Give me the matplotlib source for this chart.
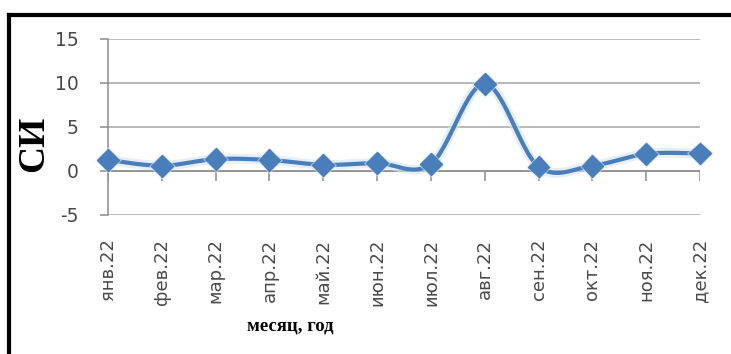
import numpy as np
import matplotlib.pyplot as plt
import matplotlib.patheffects as pe
from matplotlib.lines import Line2D

plt.rcParams['axes.unicode_minus'] = False

# monthly index values
months = ['янв.22', 'фев.22', 'мар.22', 'апр.22', 'май.22', 'июн.22',
          'июл.22', 'авг.22', 'сен.22', 'окт.22', 'ноя.22', 'дек.22']
si = [1.25, 0.6, 1.35, 1.25, 0.7, 0.9, 0.8, 9.9, 0.5, 0.6, 1.95, 2.0]

#smooth curve through the points (cardinal spline, bezier segments)
def smooth(x, y, n=30):
    x = np.asarray(x, float)
    y = np.asarray(y, float)
    px = np.concatenate([[x[0]], x, [x[-1]]])
    py = np.concatenate([[y[0]], y, [y[-1]]])
    xs, ys = [], []
    t = np.linspace(0, 1, n)
    for i in range(1, len(px) - 2):
        p0 = np.array([px[i], py[i]])
        p3 = np.array([px[i+1], py[i+1]])
        p1 = p0 + (np.array([px[i+1], py[i+1]]) - np.array([px[i-1], py[i-1]])) / 6
        p2 = p3 - (np.array([px[i+2], py[i+2]]) - np.array([px[i], py[i]])) / 6
        b = ((1-t)**3)[:, None]*p0 + (3*(1-t)**2*t)[:, None]*p1 + \
            (3*(1-t)*t**2)[:, None]*p2 + (t**3)[:, None]*p3
        xs.extend(b[:, 0])
        ys.extend(b[:, 1])
    return xs, ys

fig = plt.figure(figsize=(7.31, 3.54), dpi=100)
ax = fig.add_axes([108/731, 1-215/354, (700-108)/731, (215-39)/354])

x = np.arange(len(months))
ax.set_xlim(0, len(months)-1)
ax.set_ylim(-5, 15)
ax.set_yticks([-5, 0, 5, 10, 15])

ax.grid(axis='y', color='#a6a6a6', lw=1.1)
ax.set_axisbelow(True)
for s in ['top', 'right', 'bottom']:
    ax.spines[s].set_visible(False)
ax.spines['left'].set_color('#8c8c8c')
ax.spines['left'].set_linewidth(1.1)

#x axis crosses at zero, tick marks hang below it
ax.axhline(0, color='#8c8c8c', lw=1.1, zorder=1)
ax.vlines(x, -1.1, 0, color='#8c8c8c', lw=1.1, zorder=1)

ax.tick_params(axis='y', length=6, width=1.1, color='#8c8c8c', pad=15,
               labelsize=13.5, labelcolor='#4a4a4a')
ax.set_xticks(x)
ax.set_xticklabels(months, rotation=90, fontsize=13, color='#4a4a4a')
ax.tick_params(axis='x', length=0, pad=17)
for lbl in ax.get_yticklabels() + ax.get_xticklabels():
    lbl.set_family('DejaVu Sans')

sx, sy = smooth(x, si)
glow = [pe.Stroke(linewidth=7, foreground='#d6e4f3', alpha=0.6), pe.Normal()]
ax.plot(sx, sy, color='#4a7ebb', lw=3, zorder=3, path_effects=glow)
ax.plot(x, si, ls='none', marker='D', ms=11, color='#4a7ebb', zorder=4,
        clip_on=False,
        path_effects=[pe.Stroke(linewidth=2.5, foreground='#d6e4f3', alpha=0.6), pe.Normal()])

fig.text(34/731, 1-144/354, 'СИ', family='Liberation Serif', fontweight='bold',
         fontsize=27, rotation=90, ha='center', va='center')
fig.text(290/731, 1-326/354, 'месяц, год', family='Liberation Serif',
         fontweight='bold', fontsize=13.5, ha='center', va='center')

# frame on the left and top
fig.add_artist(Line2D([9/731, 9/731], [0, 1-15/354], transform=fig.transFigure,
                      color='black', lw=3))
fig.add_artist(Line2D([9/731, 1], [1-15/354, 1-15/354], transform=fig.transFigure,
                      color='black', lw=3))

fig.savefig('out.png', dpi=100)
